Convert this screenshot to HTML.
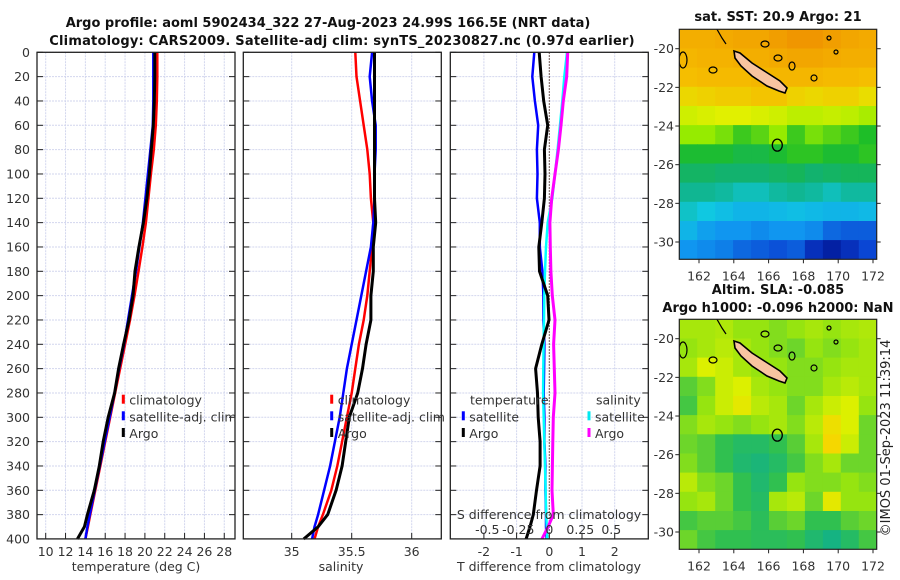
<!DOCTYPE html>
<html><head><meta charset="utf-8">
<style>
html,body{margin:0;padding:0;background:#fff;}
svg{display:block;font-family:"DejaVu Sans","Liberation Sans",sans-serif;}
.tk{font-size:12.5px;fill:#333;}
.ttl{font-size:13px;font-weight:bold;fill:#111;}
</style></head>
<body>
<svg id="fig" width="900" height="580" viewBox="0 0 900 580" xmlns="http://www.w3.org/2000/svg">
<text class="ttl" x="328" y="27" text-anchor="middle">Argo profile: aoml 5902434_322 27-Aug-2023 24.99S 166.5E (NRT data)</text>
<text class="ttl" x="342" y="45" text-anchor="middle" letter-spacing="0.2">Climatology: CARS2009. Satellite-adj clim: synTS_20230827.nc (0.97d earlier)</text>
<text class="ttl" x="778" y="21" text-anchor="middle">sat. SST: 20.9 Argo: 21</text>
<text class="ttl" x="778" y="294" text-anchor="middle">Altim. SLA: -0.085</text>
<text class="ttl" x="778" y="312" text-anchor="middle">Argo h1000: -0.096 h2000: NaN</text>
<text x="895" y="443" font-size="13" fill="#222" text-anchor="middle" transform="rotate(-90 890 443)">©IMOS 01-Sep-2023 11:39:14</text>
<g id="layer"></g>
</svg>
<script>
// ---- profile data ----
const depths = [0,20,40,60,80,100,120,140,160,180,200,220,240,260,280,300,320,340,360,380,390,400];
const tempClim = [21.25,21.25,21.2,21.1,20.9,20.6,20.35,20.1,19.75,19.35,18.95,18.5,18.0,17.5,17.0,16.5,16.0,15.5,15.0,14.5,14.25,14.0];
const tempSat = [20.85,20.85,20.85,20.8,20.55,20.3,20.05,19.8,19.45,19.1,18.7,18.3,17.9,17.4,16.95,16.45,15.95,15.45,14.95,14.45,14.2,14.0];
const tempArgo = [21.0,21.0,20.95,20.85,20.65,20.45,20.2,19.85,19.4,19.0,18.8,18.4,17.85,17.35,16.95,16.3,15.8,15.4,14.9,14.2,13.9,13.2];
const salClim = [35.53,35.54,35.57,35.60,35.63,35.65,35.66,35.68,35.67,35.65,35.63,35.60,35.56,35.53,35.50,35.46,35.42,35.38,35.33,35.26,35.22,35.19];
const salSat = [35.67,35.65,35.67,35.70,35.70,35.69,35.69,35.68,35.66,35.62,35.58,35.54,35.50,35.46,35.43,35.40,35.36,35.32,35.27,35.22,35.19,35.17];
const salArgo = [35.69,35.69,35.69,35.69,35.69,35.69,35.69,35.70,35.68,35.68,35.66,35.66,35.62,35.59,35.55,35.48,35.45,35.42,35.37,35.30,35.22,35.10];
const dTSat = [-0.46,-0.52,-0.44,-0.34,-0.38,-0.36,-0.38,-0.29,-0.29,-0.21,-0.18,-0.18,-0.15,-0.16,-0.17,-0.15,-0.15,-0.12,-0.12,-0.1,-0.1,-0.08];
const dTArgo = [-0.31,-0.25,-0.17,-0.05,-0.15,-0.13,-0.15,-0.23,-0.32,-0.3,-0.05,-0.01,-0.23,-0.42,-0.36,-0.34,-0.28,-0.28,-0.39,-0.49,-0.59,-0.71];
const dSSat = [0.143,0.121,0.105,0.086,0.067,0.046,0.024,-0.013,-0.027,-0.035,-0.04,-0.043,-0.046,-0.048,-0.05,-0.045,-0.04,-0.035,-0.03,-0.025,-0.02,-0.016];
const dSArgo = [0.148,0.14,0.113,0.094,0.073,0.046,0.019,0.005,0.008,0.013,0.024,0.046,0.035,0.04,0.046,0.032,0.028,0.025,0.022,0.032,-0.01,-0.06];
const depthTicks = [0,20,40,60,80,100,120,140,160,180,200,220,240,260,280,300,320,340,360,380,400];
const tempTicks = [10,12,14,16,18,20,22,24,26,28];
const salTicks = [35,35.5,36];
const salTickLabels = ["35","35.5","36"];
const dTTicks = [-2,-1,0,1,2];
const dSTicks = [-0.5,-0.25,0,0.25,0.5];
const dSTickLabels = ["-0.5","-0.25","0","0.25","0.5"];
// ---- map data (rows top->bottom, cols left->right, covering full map area) ----
const sstGrid = [
[0.84,0.84,0.85,0.86,0.86,0.88,0.90,0.90,0.88,0.86,0.85],
[0.82,0.83,0.83,0.84,0.84,0.85,0.86,0.86,0.85,0.84,0.84],
[0.80,0.81,0.81,0.81,0.82,0.82,0.82,0.82,0.81,0.81,0.80],
[0.76,0.77,0.78,0.78,0.79,0.79,0.77,0.76,0.77,0.77,0.75],
[0.70,0.71,0.72,0.72,0.71,0.70,0.68,0.68,0.69,0.68,0.66],
[0.64,0.64,0.62,0.58,0.60,0.64,0.58,0.62,0.60,0.58,0.56],
[0.55,0.55,0.55,0.53,0.53,0.55,0.57,0.57,0.55,0.55,0.57],
[0.50,0.50,0.49,0.49,0.49,0.50,0.51,0.49,0.50,0.51,0.51],
[0.46,0.46,0.45,0.43,0.43,0.45,0.46,0.45,0.43,0.45,0.45],
[0.42,0.40,0.38,0.36,0.36,0.37,0.38,0.37,0.36,0.36,0.37],
[0.36,0.32,0.30,0.30,0.28,0.30,0.30,0.28,0.22,0.20,0.20],
[0.30,0.28,0.26,0.22,0.20,0.18,0.20,0.10,0.05,0.10,0.16]];
const slaGrid = [
[0.60,0.60,0.62,0.55,0.55,0.50,0.55,0.60,0.55,0.60,0.62],
[0.55,0.60,0.65,0.60,0.55,0.50,0.45,0.55,0.50,0.55,0.60],
[0.60,0.75,0.70,0.60,0.55,0.55,0.50,0.50,0.55,0.60,0.60],
[0.40,0.50,0.70,0.75,0.60,0.55,0.50,0.50,0.60,0.65,0.60],
[0.35,0.55,0.70,0.80,0.65,0.60,0.45,0.60,0.70,0.75,0.55],
[0.50,0.60,0.55,0.50,0.55,0.60,0.50,0.65,0.85,0.75,0.45],
[0.45,0.40,0.30,0.20,0.20,0.30,0.40,0.60,0.90,0.70,0.45],
[0.50,0.40,0.30,0.15,0.10,0.20,0.35,0.50,0.60,0.45,0.45],
[0.65,0.50,0.45,0.30,0.15,0.30,0.55,0.50,0.50,0.55,0.50],
[0.55,0.60,0.45,0.30,0.20,0.60,0.65,0.45,0.80,0.55,0.55],
[0.35,0.40,0.40,0.35,0.25,0.40,0.45,0.30,0.30,0.40,0.45],
[0.45,0.35,0.30,0.30,0.25,0.25,0.30,0.15,0.05,0.20,0.35]];
const lonTicks = [162,164,166,168,170,172];
const latTicks = [-20,-22,-24,-26,-28,-30];
const argoLon = 166.5, argoLat = -24.99;

const NS='http://www.w3.org/2000/svg';
const layer=document.getElementById('layer');
function mk(tag,attrs,parent){const e=document.createElementNS(NS,tag);for(const k in attrs)e.setAttribute(k,attrs[k]);(parent||layer).appendChild(e);return e;}
function txt(x,y,s,anchor,cls,parent){const t=mk('text',{x:x,y:y,'text-anchor':anchor||'middle',class:cls||'tk'},parent);t.textContent=s;return t;}

const y0=52.3, yPer=1.2167, yBot=538.9;
const yD=d=>y0+d*yPer;
const panels=[
 {x0:37,x1:235,name:'temperature-panel'},
 {x0:243.3,x1:441.3,name:'salinity-panel'},
 {x0:450.3,x1:648.3,name:'difference-panel'}];
const xT=v=>45.7+(v-10)*9.92;
const xS=v=>291.7+(v-35)*120;
const xdT=v=>549.3+v*32.7;
const xdS=v=>549.3+v*124;
const GRID='#d2d6ee';

function panelFrame(p,vGrid){
  const g=mk('g',{});
  
  
  depthTicks.forEach(d=>{mk('line',{x1:p.x0,x2:p.x1,y1:yD(d),y2:yD(d),stroke:GRID,'stroke-width':1,'stroke-dasharray':'2,1'},g);});
  vGrid.forEach(x=>{mk('line',{x1:x,x2:x,y1:y0,y2:yBot,stroke:GRID,'stroke-width':1,'stroke-dasharray':'2,1'},g);
    mk('line',{x1:x,x2:x,y1:yBot,y2:yBot-6,stroke:'#222','stroke-width':1},g);});
  depthTicks.forEach(d=>{mk('line',{x1:p.x0,x2:p.x0+6,y1:yD(d),y2:yD(d),stroke:'#222'},g);mk('line',{x1:p.x1,x2:p.x1-6,y1:yD(d),y2:yD(d),stroke:'#222'},g);});
  return g;
}
function frameBorder(p,g){mk('rect',{x:p.x0,y:y0,width:p.x1-p.x0,height:yBot-y0,fill:'none',stroke:'#222','stroke-width':1.3},g);}
function series(g,vals,xf,color,w,name){
  const pts=vals.map((v,i)=>xf(v).toFixed(1)+','+yD(depths[i]).toFixed(1)).join(' ');
  const pl=mk('polyline',{points:pts,fill:'none',stroke:color,'stroke-width':w,'stroke-linejoin':'round'},g);
  
  
}
function legend(g,x,yy,color,label,name){
  mk('line',{x1:x,x2:x,y1:yy-6,y2:yy+3,stroke:color,'stroke-width':3},g);
  const t=txt(x+6,yy+4,label,'start','tk',g);
  
  
}

// Panel 1 temperature
let g1=panelFrame(panels[0],tempTicks.map(xT));
series(g1,tempClim,xT,'#ff0000',2.5,'temp-climatology-line');
series(g1,tempSat,xT,'#0000ff',2.5,'temp-satellite-line');
series(g1,tempArgo,xT,'#000000',3,'temp-argo-line');
frameBorder(panels[0],g1);
depthTicks.forEach(d=>{const t=txt(30,yD(d)+4.5,String(d),'end','tk',g1);});
tempTicks.forEach(v=>{const t=txt(xT(v),556,String(v),'middle','tk',g1);});
let at=txt(136,571,'temperature (deg C)','middle','tk',g1);


legend(g1,123.3,400.7,'#ff0000','climatology','legend-climatology');
legend(g1,123.3,417.3,'#0000ff','satellite-adj. clim','legend-satellite');
legend(g1,123.3,434,'#000000','Argo','legend-argo');

// Panel 2 salinity
let g2=panelFrame(panels[1],salTicks.map(xS));
series(g2,salClim,xS,'#ff0000',2.5,'sal-climatology-line');
series(g2,salSat,xS,'#0000ff',2.5,'sal-satellite-line');
series(g2,salArgo,xS,'#000000',3,'sal-argo-line');
frameBorder(panels[1],g2);
salTicks.forEach((v,i)=>{const t=txt(xS(v),556,salTickLabels[i],'middle','tk',g2);});
let as=txt(341,571,'salinity','middle','tk',g2);


legend(g2,331.7,400.7,'#ff0000','climatology','legend-sal-climatology');
legend(g2,331.7,417.3,'#0000ff','satellite-adj. clim','legend-sal-satellite');
legend(g2,331.7,434,'#000000','Argo','legend-sal-argo');

// Panel 3 differences
let g3=panelFrame(panels[2],dTTicks.map(xdT));
mk('line',{x1:xdT(0),x2:xdT(0),y1:y0,y2:yBot,stroke:'#553322','stroke-width':1,'stroke-dasharray':'1.5,1.5'},g3);
series(g3,dTSat,xdT,'#0000ff',2.5,'dt-satellite-line');
series(g3,dSSat,xdS,'#00ffff',2.5,'ds-satellite-line');
series(g3,dSArgo,xdS,'#ff00ff',3,'ds-argo-line');
series(g3,dTArgo,xdT,'#000000',3,'dt-argo-line');
frameBorder(panels[2],g3);
dTTicks.forEach(v=>{const t=txt(xdT(v),556,String(v),'middle','tk',g3);});
dSTicks.forEach((v,i)=>{const t=txt(xdS(v),534,dSTickLabels[i],'middle','tk',g3);});
let ad=txt(549,571,'T difference from climatology','middle','tk',g3);


let as2=txt(549,519,'S difference from climatology','middle','tk',g3);


let lt=txt(470,404.7,'temperature','start','tk',g3);


let ls=txt(596,404.7,'salinity','start','tk',g3);


legend(g3,463.3,417.3,'#0000ff','satellite','legend-dt-satellite');
legend(g3,463.3,434,'#000000','Argo','legend-dt-argo');
legend(g3,589,417.3,'#00e8f0','satellite','legend-ds-satellite');
legend(g3,589,434,'#ff00ff','Argo','legend-ds-argo');

// ---- maps ----
function lerpCol(stops,v){
  v=Math.max(0,Math.min(1,v));
  for(let i=1;i<stops.length;i++){if(v<=stops[i][0]){const a=stops[i-1],b=stops[i];const t=(v-a[0])/(b[0]-a[0]);
    const c=[0,1,2].map(k=>Math.round(a[1][k]+(b[1][k]-a[1][k])*t));return 'rgb('+c.join(',')+')';}}
  const l=stops[stops.length-1][1];return 'rgb('+l.join(',')+')';
}
const sstCmap=[[0,[0,16,140]],[0.15,[10,64,210]],[0.3,[16,150,240]],[0.4,[16,200,225]],[0.48,[16,176,120]],[0.56,[30,190,40]],[0.64,[150,235,0]],[0.72,[225,240,0]],[0.8,[245,190,0]],[0.9,[240,150,0]],[1,[215,100,0]]];
const slaCmap=[[0,[16,176,140]],[0.3,[48,192,80]],[0.55,[150,228,16]],[0.75,[220,240,0]],[0.9,[245,215,0]],[1,[245,170,0]]];
function drawMap(top,grid,cmap,name){
  const mx0=679.3,mx1=876.7,mh=230;
  const lx=lon=>699+(lon-162)*17.4;
  const ly=lat=>top+19.4+(-20-lat)*19.33;
  const g=mk('g',{});
  
  
  const clip=mk('clipPath',{id:'clip'+name},g);
  mk('rect',{x:mx0,y:top,width:mx1-mx0,height:mh},clip);
  const cells=mk('g',{'clip-path':'url(#clip'+name+')'},g);
  const nr=grid.length, nc=grid[0].length;
  const cw=(mx1-mx0)/nc, ch=mh/nr;
  grid.forEach((row,r)=>row.forEach((v,c)=>{
    const cell=mk('rect',{x:(mx0+c*cw).toFixed(1),y:(top+r*ch).toFixed(1),width:(cw+0.6).toFixed(1),height:(ch+0.6).toFixed(1),fill:lerpCol(cmap,v)},cells);
    
    
  }));
  const oy=top-29.3;
  const isl=mk('polygon',{points:[[734,51],[740,53],[752,63],[766,72],[780,81],[787,88],[785,93],[779,91],[767,86],[752,76],[741,66],[735,58]].map(p=>p[0]+','+(p[1]+oy)).join(' '),fill:'#f8c4a0',stroke:'#000','stroke-width':1.6},cells);
  
  
  [[765,44,4,3],[683,60,4,8],[713,70,4,3],[778,58,4,3],[792,66,3,4],[814,78,3,3],[829,38,2,2],[836,52,2,2]].forEach(s=>{
    mk('ellipse',{cx:s[0],cy:s[1]+oy,rx:s[2],ry:s[3],fill:'none',stroke:'#000','stroke-width':1.2},cells);});
  mk('path',{d:'M717 '+(29.3+oy)+' L722 '+(38+oy)+' L726 '+(44+oy),fill:'none',stroke:'#000','stroke-width':1.2},cells);
  const mark=mk('ellipse',{cx:lx(argoLon),cy:ly(argoLat),rx:5,ry:6,fill:'none',stroke:'#000','stroke-width':1.3},g);
  
  
  mk('rect',{x:mx0,y:top,width:mx1-mx0,height:mh,fill:'none',stroke:'#222','stroke-width':1.2},g);
  lonTicks.forEach(l=>{mk('line',{x1:lx(l),x2:lx(l),y1:top+mh,y2:top+mh+4,stroke:'#222'},g);
    const t=txt(lx(l),top+251,String(l),'middle','tk',g);});
  latTicks.forEach(l=>{mk('line',{x1:mx1,x2:mx1+4,y1:ly(l),y2:ly(l),stroke:'#222'},g);mk('line',{x1:mx0,x2:mx0-4,y1:ly(l),y2:ly(l),stroke:'#222'},g);
    const t=txt(674,ly(l)+4.5,String(l),'end','tk',g);});
}
drawMap(29.3,sstGrid,sstCmap,'sst-map');
drawMap(319.3,slaGrid,slaCmap,'sla-map');
</script>
</body></html>
